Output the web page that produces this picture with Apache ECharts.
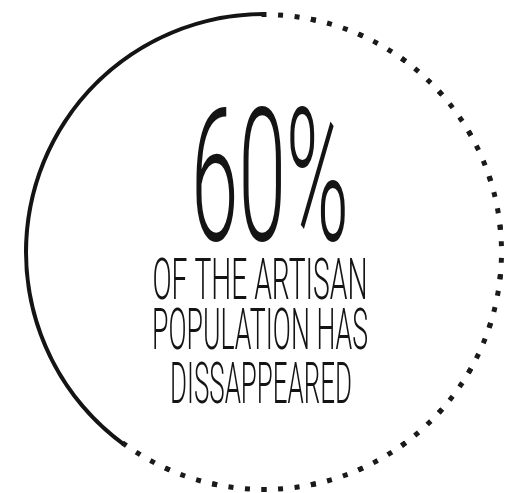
<!DOCTYPE html>
<html><head><meta charset="utf-8">
<script src="https://cdn.jsdelivr.net/npm/echarts@6.0.0/dist/echarts.min.js"></script>
<style>html,body{margin:0;padding:0;background:#fff}#main{width:513px;height:493px}</style>
</head><body><div id="main"></div>
<script>
// ---- data ----
const shareLabels = ['Disappeared', 'Remaining'];
const shareValues = [60, 40];
const headline = shareValues[0] + '%';
const captionLines = ['OF THE ARTISAN', 'POPULATION HAS', 'DISSAPPEARED'];

// ---- layout helpers ----
const FONT_FAMILY = 'Roboto, "Liberation Sans Narrow", sans-serif';
const mctx = document.createElement('canvas').getContext('2d');
function fitScale(text, weight, size, targetW) {
  mctx.font = weight + ' ' + size + 'px ' + FONT_FAMILY;
  return targetW / mctx.measureText(text).width;
}
function textEl(text, cx, cy, size, targetW, weight) {
  return {
    type: 'text', x: cx, y: cy,
    scaleX: fitScale(text, weight, size, targetW), scaleY: 1,
    style: {
      text: text, font: weight + ' ' + size + 'px ' + FONT_FAMILY,
      fill: '#141414', align: 'center', verticalAlign: 'middle',
      textAlign: 'center', textVerticalAlign: 'middle'
    }
  };
}
const captionPos = [[260, 284, 215], [260, 334, 216], [261, 388, 182]];

const total = shareValues[0] + shareValues[1];
const dashedFrac = shareValues[0] / total;
const CENTER = [264, 252], RADIUS = 240;
const hidden = {
  splitLine: { show: false }, axisLabel: { show: false },
  pointer: { show: false }, anchor: { show: false },
  title: { show: false }, detail: { show: false }, progress: { show: false }
};

const chart = echarts.init(document.getElementById('main'), null, { renderer: 'canvas' });
chart.setOption({
  backgroundColor: '#ffffff',
  animation: false,
  series: [
    Object.assign({
      type: 'gauge', name: shareLabels[1],
      center: CENTER, radius: RADIUS,
      startAngle: 90, endAngle: -270,
      min: 0, max: total,
      axisLine: { lineStyle: { width: 4, color: [[dashedFrac, 'rgba(0,0,0,0)'], [1, '#141414']] } },
      axisTick: { show: false },
      data: [{ value: shareValues[1], name: shareLabels[1] }]
    }, hidden),
    Object.assign({
      type: 'gauge', name: shareLabels[0],
      center: CENTER, radius: RADIUS,
      startAngle: 90, endAngle: 90 - 360 * dashedFrac,
      min: 0, max: shareValues[0],
      splitNumber: 18,
      axisLine: { show: false, lineStyle: { width: 0 } },
      axisTick: { show: true, splitNumber: 3, distance: 0.01, length: 5, lineStyle: { color: '#1a1a1a', width: 5, cap: 'butt' } },
      data: [{ value: shareValues[0], name: shareLabels[0] }]
    }, hidden)
  ],
  graphic: [
    textEl(headline, 270, 193, 186, 158, '300')
  ].concat(captionLines.map((t, i) => textEl(t, captionPos[i][0], captionPos[i][1], 58, captionPos[i][2], '300')))
});
</script></body></html>
